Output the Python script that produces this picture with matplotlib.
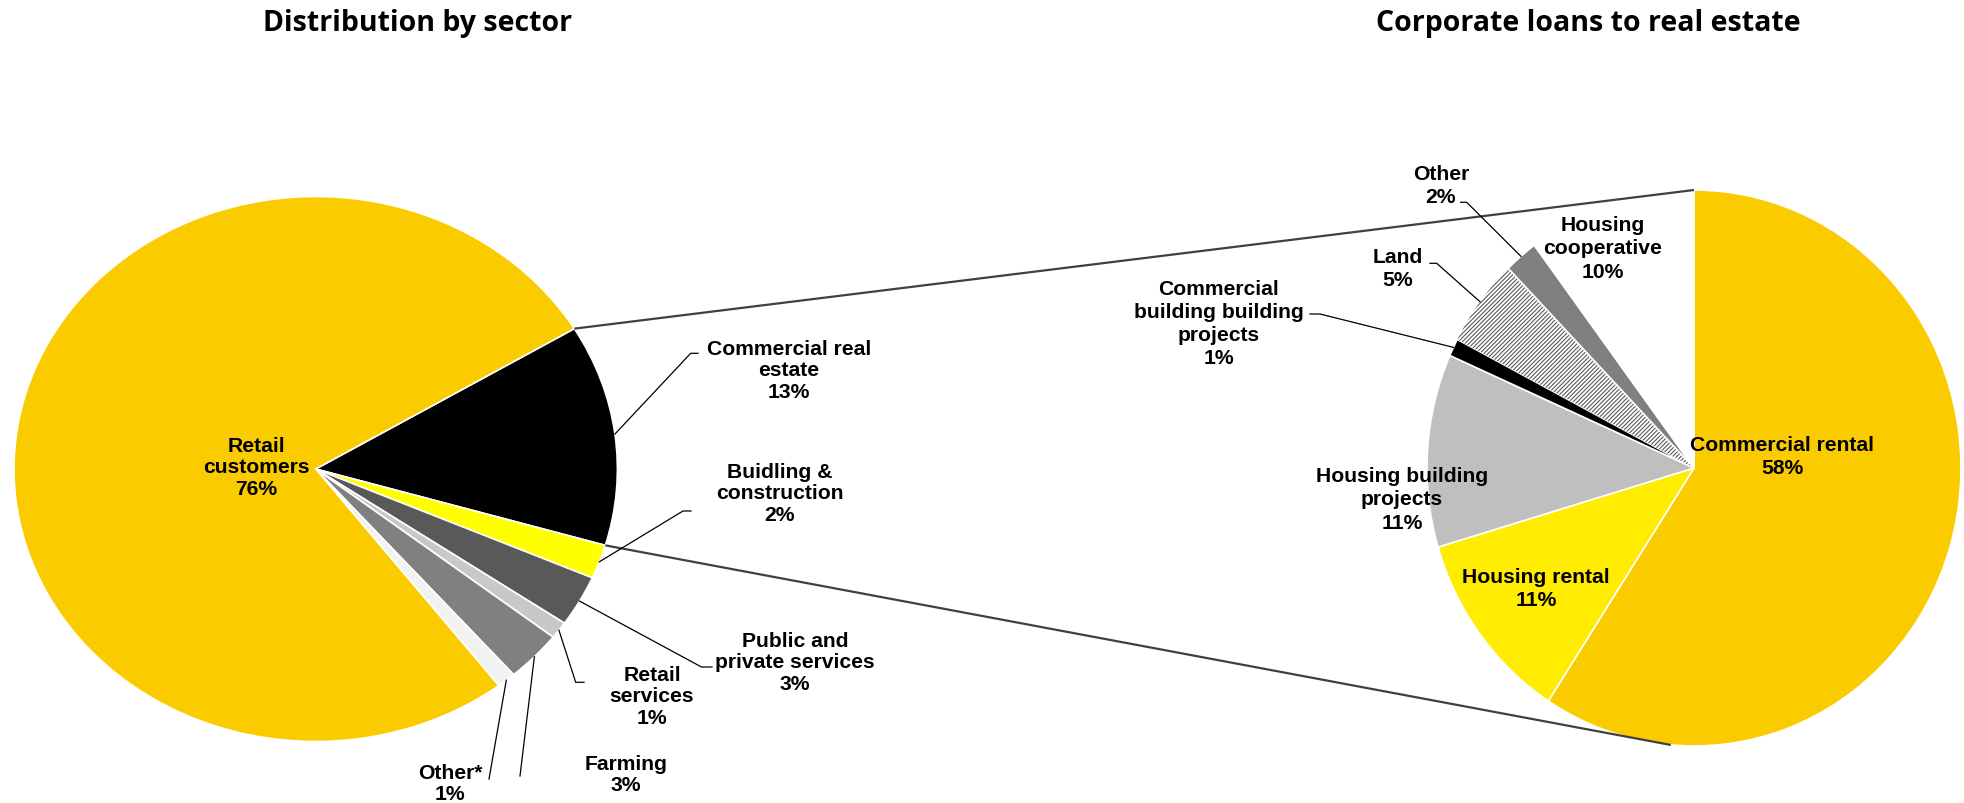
import numpy as np
import matplotlib
matplotlib.use("Agg")
import matplotlib.pyplot as plt

W, H = 1964, 804

# Distribution by sector, clockwise from the commercial real estate wedge
sector_names = ["Commercial real\nestate", "Buidling &\nconstruction", "Public and\nprivate services",
                "Retail\nservices", "Farming", "Other*", "Retail\ncustomers"]
sector_values = [13, 2, 3, 1, 3, 1, 76]
sector_colors = ["#000000", "#FFFF00", "#595959", "#C8C8C8", "#808080", "#F2F2F2", "#FACC00"]

# Corporate loans to real estate, clockwise from 12 o'clock
re_names = ["Commercial rental", "Housing rental", "Housing building\nprojects",
            "Commercial\nbuilding building\nprojects", "Land", "Other", "Housing\ncooperative"]
re_values = [58, 11, 11, 1, 5, 2, 10]
re_colors = ["#FACC00", "#FFEC00", "#BFBFBF", "#000000", "#FFFFFF", "#808080", "#FFFFFF"]

# pie geometry in pixels: centre x, centre y, x-radius, y-radius
LEFT = (315.7, 470.0, 301.7, 272.5)
RIGHT = (1694.0, 469.0, 267.0, 278.0)

# label centres, and leader paths (after the wedge point) in pixels
sector_label_pos = [(789, 371), (780, 494), (795, 663), (652, 697), (626, 775), (450, 784), (256, 468)]
sector_leaders = [[(690.7, 354.3), (698, 354.3)], [(683, 512), (691, 512)],
                  [(701.5, 668), (712, 668)], [(575.7, 683.3), (584, 683.3)],
                  [(520, 777)], [(489, 780)], None]
re_label_pos = [(1782, 457), (1536, 589), (1402, 500), (1219, 324), (1398, 269), (1441, 186), (1603, 249)]
re_leaders = [None, None, None, [(1320, 315), (1310, 315)], [(1436.7, 264.3), (1430, 264.3)],
              [(1466.7, 203.3), (1460.7, 203.3)], None]

plt.rcParams["hatch.linewidth"] = 0.8
LABEL_FONT = dict(family="Liberation Sans", weight="bold", fontsize=15.2)
TITLE_FONT = dict(family="Open Sans", weight="bold", fontsize=20.5)

fig = plt.figure(figsize=(W / 100, H / 100), dpi=100)


def pie_axes(geom):
    cx, cy, rx, ry = geom
    ax = fig.add_axes([(cx - rx) / W, 1 - (cy + ry) / H, 2 * rx / W, 2 * ry / H])
    return ax


def finish(ax):
    ax.set_xlim(-1, 1)
    ax.set_ylim(-1, 1)
    ax.set_aspect("auto")
    ax.axis("off")


def on_rim(geom, deg):
    cx, cy, rx, ry = geom
    t = np.radians(deg)
    return cx + rx * np.cos(t), cy - ry * np.sin(t)


ax_l = pie_axes(LEFT)
wedges_l, _ = ax_l.pie(sector_values, colors=sector_colors, startangle=31.0, counterclock=False,
                       radius=1, wedgeprops=dict(edgecolor="white", linewidth=1.2))
finish(ax_l)

ax_r = pie_axes(RIGHT)
wedges_r, _ = ax_r.pie(re_values, colors=re_colors, startangle=90, counterclock=False,
                       radius=1, wedgeprops=dict(edgecolor="white", linewidth=1.2))
finish(ax_r)
land = wedges_r[re_names.index("Land")]
land.set_hatch("////////")
land.set_edgecolor("#5A5A5A")
land.set_linewidth(0)

for w in list(wedges_l) + list(wedges_r):
    w.set_clip_on(False)

# overlay in pixel coordinates for titles, labels, leaders and connectors
ov = fig.add_axes([0, 0, 1, 1])
ov.set_xlim(0, W)
ov.set_ylim(H, 0)
ov.axis("off")
ov.set_zorder(5)
ov.patch.set_visible(False)

ov.text(418, 31, "Distribution by sector", ha="center", va="baseline", **TITLE_FONT)
ov.text(1588, 31, "Corporate loans to real estate", ha="center", va="baseline", **TITLE_FONT)

# connector lines from the commercial real estate wedge to the right-hand pie
cre = wedges_l[0]
top_l = on_rim(LEFT, cre.theta2)
bot_l = on_rim(LEFT, cre.theta1)
top_r = on_rim(RIGHT, 90)
bot_r = on_rim(RIGHT, -95)
ov.plot([top_l[0], top_r[0]], [top_l[1], top_r[1]], color="#404040", lw=1.6, solid_capstyle="butt")
ov.plot([bot_l[0], bot_r[0]], [bot_l[1], bot_r[1]], color="#404040", lw=1.6, solid_capstyle="butt")


def draw_labels(geom, wedges, names, values, positions, leaders, spacing):
    for w, name, val, pos, lead in zip(wedges, names, values, positions, leaders):
        ov.text(pos[0], pos[1], f"{name}\n{val}%", ha="center", va="center",
                multialignment="center", linespacing=spacing, **LABEL_FONT)
        if lead:
            mid = 0.5 * (w.theta1 + w.theta2)
            pts = [on_rim(geom, mid)] + lead
            xs, ys = zip(*pts)
            ov.plot(xs, ys, color="black", lw=0.9)


draw_labels(LEFT, wedges_l, sector_names, sector_values, sector_label_pos, sector_leaders, 1.15)
draw_labels(RIGHT, wedges_r, re_names, re_values, re_label_pos, re_leaders, 1.27)

fig.savefig("out.png", dpi=100, facecolor="white")
